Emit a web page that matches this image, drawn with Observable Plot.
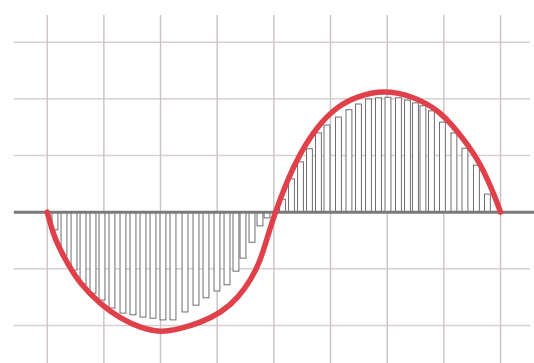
<!DOCTYPE html>
<html>
<head>
<meta charset="utf-8">
<script src="https://cdn.jsdelivr.net/npm/d3@7"></script>
<script src="https://cdn.jsdelivr.net/npm/@observablehq/plot@0.6"></script>
<style>
  html, body { margin: 0; padding: 0; background: #ffffff; }
  #chart svg { display: block; }
</style>
</head>
<body>
<div id="chart"></div>
<script>
// Grid ticks (data units)
const gridX = [0, 1, 2, 3, 4, 5, 6, 7, 8];
const gridY = [-2, -1, 1, 2, 3];
const gridYTop = 3.47, gridYBottom = -2.67;
const gridXLeft = -0.58, gridXRight = 8.53;
const axisXRight = 8.6;

// Bars: center positions and values
const barX = [
  0.146, 0.305, 0.482, 0.641, 0.817, 0.976, 1.152, 1.346, 1.523, 1.699, 1.876, 2.052,
  2.229, 2.441, 2.635, 2.811, 3.005, 3.182, 3.340, 3.464, 3.623, 3.764, 3.888,
  4.161, 4.320, 4.479, 4.637, 4.796, 4.946, 5.149, 5.334, 5.502, 5.679, 5.855,
  6.023, 6.208, 6.367, 6.508, 6.640, 6.790, 6.984, 7.187, 7.381, 7.584, 7.778
];
const barValue = [
  -0.32, -0.78, -1.03, -1.28, -1.44, -1.56, -1.70, -1.79, -1.82, -1.86, -1.88, -1.91,
  -1.91, -1.77, -1.65, -1.52, -1.40, -1.29, -1.05, -0.82, -0.54, -0.25, -0.11,
  0.22, 0.58, 0.88, 1.11, 1.39, 1.53, 1.67, 1.80, 1.90, 1.99, 2.01,
  2.02, 2.01, 1.97, 1.92, 1.87, 1.78, 1.58, 1.39, 1.12, 0.82, 0.31
];
const barHalfWidth = 0.052;

// Red curve
const curveX = [0, 0.15, 0.36, 0.59, 0.94, 1.29, 1.65, 2.0, 2.35, 2.70, 3.06, 3.36,
  3.59, 3.76, 3.90, 4.03, 4.24, 4.47, 4.77, 5.12, 5.48, 5.94, 6.46, 6.94, 7.35, 7.65, 7.88, 8.0];
const curveY = [0, -0.48, -0.90, -1.25, -1.61, -1.86, -2.03, -2.10, -2.05, -1.94, -1.76, -1.50,
  -1.18, -0.83, -0.40, 0, 0.55, 1.03, 1.49, 1.84, 2.03, 2.12, 2.02, 1.74, 1.28, 0.82, 0.32, 0];

const bars = barX.map((x, i) => ({x, v: barValue[i]}));
const curve = curveX.map((x, i) => ({x, y: curveY[i]}));

const chart = Plot.plot({
  width: 534,
  height: 363,
  margin: 0,
  x: {domain: [0, 8], range: [46.7, 500], axis: null},
  y: {domain: [-2, 3], range: [325, 41.7], axis: null},
  marks: [
    Plot.ruleY(gridY, {x1: gridXLeft, x2: gridXRight, stroke: "#d8d0d0", strokeWidth: 1.5}),
    Plot.ruleX(gridX, {y1: gridYTop, y2: gridYBottom, stroke: "#cdc5c5", strokeWidth: 1.5}),
    Plot.rect(bars, {
      x1: d => d.x - barHalfWidth,
      x2: d => d.x + barHalfWidth,
      y1: 0,
      y2: "v",
      fill: "white",
      stroke: "#6e6e6e",
      strokeWidth: 1
    }),
    Plot.ruleY([0], {x1: gridXLeft, x2: axisXRight, stroke: "#7a7a7a", strokeWidth: 3}),
    Plot.line(curve, {x: "x", y: "y", stroke: "#e0404a", strokeWidth: 5.5, curve: "natural"})
  ]
});
document.getElementById("chart").appendChild(chart);
</script>
</body>
</html>
